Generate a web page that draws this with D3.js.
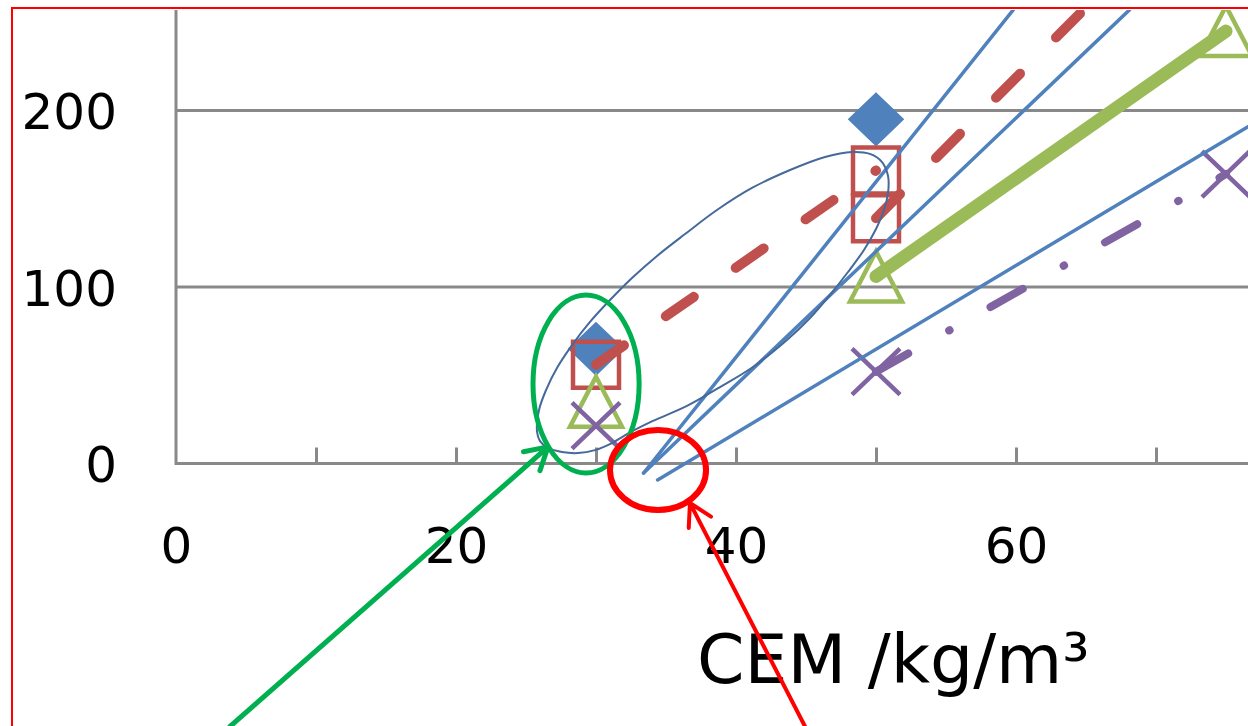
<html>
<head>
<title>CEM chart</title>
<script src="https://d3js.org/d3.v7.min.js"></script>
<style>
    body { margin: 0; background: #fff; }
    text { font-family: "DejaVu Sans", Verdana, sans-serif; fill: #000; }
</style>
</head>
<body>
<div id="chart"></div>
<script type="text/javascript">
    // Data **********************************************
    var cem = [30, 50, 75];
    var blueValues = [65, 195, null];
    var redValues = [56, 166, null];
    var redValues2 = [null, 139, 338];
    var greenValues = [35, 106, 245];
    var purpleValues = [21.5, 52, 164];

    var xTicks = [0, 20, 40, 60];
    var xMinorTicks = [10, 20, 30, 40, 50, 60, 70];
    var yTicks = [0, 100, 200];
    var gridValues = [100, 200];
    var xTitle = "CEM /kg/m\u00B3";

    // straight blue lines: start and end points
    var trendStartX = [33.4, 33.4, 34.4];
    var trendStartY = [-5.4, -5.4, -9.3];
    var trendEndX = [59.8, 68.1, 76.6];
    var trendEndY = [257, 257, 191];

    // hand drawn loop around the points
    var loopX = [25.79, 25.93, 26.43, 27.21, 28.29, 29.57, 31.0, 32.57, 34.36, 36.36, 38.64, 41.14, 43.86,
        46.36, 48.29, 49.57, 50.43, 50.86, 50.86, 50.57, 50.0, 49.14, 48.0, 46.71, 45.29, 43.64, 41.21,
        38.86, 36.5, 34.07, 32.43, 31.14, 29.93, 28.71, 27.57, 26.57, 26.0];
    var loopY = [17.9, 30.3, 41.6, 54.1, 67.1, 80.2, 92.6, 105.1, 117.6, 130.0, 143.6, 156.1, 166.3,
        173.7, 176.5, 175.4, 170.8, 162.9, 153.3, 143.6, 132.9, 121.0, 108.5, 95.5, 82.4, 70.0, 54.7,
        43.3, 32.6, 24.1, 17.6, 11.6, 7.6, 5.9, 6.5, 8.8, 12.7];

    // annotation marks (data units)
    var greenRing = {cx: 29.29, cy: 45.0, rx: 3.79, ry: 50.4};
    var redRing = {cx: 34.43, cy: -3.7, rx: 3.43, ry: 22.7};
    var greenArrow = {x0: 3.86, y0: -149, x1: 26.57, y1: 9.4};
    var redArrow = {x0: 44.93, y0: -149, x1: 36.71, y1: -22.4};

    // Layout ***********************
    var width = 1248, height = 726;
    var gray = "#898989";

    var x = d3.scaleLinear().domain([0, 76.571]).range([176, 1248]);
    var y = d3.scaleLinear().domain([0, 200]).range([463.5, 110.5]);

    var svg = d3.select("#chart").append("svg")
        .attr("width", width)
        .attr("height", height);

    svg.append("defs").append("clipPath").attr("id", "plotclip")
        .append("rect")
        .attr("x", 13).attr("y", 10)
        .attr("width", width).attr("height", height);

    // gridlines
    svg.selectAll(".grid")
        .data(gridValues)
        .enter().append("line")
        .attr("x1", x(0)).attr("x2", width)
        .attr("y1", function (d) { return y(d); })
        .attr("y2", function (d) { return y(d); })
        .attr("stroke", gray).attr("stroke-width", 3);

    // x axis
    var xAxis = svg.append("g")
        .attr("transform", "translate(0," + y(0) + ")")
        .call(d3.axisBottom(x).tickValues(xTicks).tickSize(0).tickFormat(d3.format("d")));
    xAxis.select(".domain").remove();
    xAxis.selectAll("text")
        .attr("y", 82).attr("dy", "0.35em")
        .style("font-size", "50px");

    svg.append("g")
        .attr("transform", "translate(0," + y(0) + ")")
        .call(d3.axisBottom(x).tickValues(xMinorTicks).tickSize(-16).tickFormat(""))
        .call(function (g) { g.select(".domain").remove(); })
        .selectAll("line").attr("stroke", gray).attr("stroke-width", 3);

    svg.append("line")
        .attr("x1", x(0)).attr("x2", width)
        .attr("y1", y(0)).attr("y2", y(0))
        .attr("stroke", gray).attr("stroke-width", 3);

    // y axis
    var yAxis = svg.append("g")
        .attr("transform", "translate(" + x(0) + ",0)")
        .call(d3.axisLeft(y).tickValues(yTicks).tickSize(0).tickPadding(59));
    yAxis.select(".domain").remove();
    yAxis.selectAll("text")
        .attr("dy", "0.36em")
        .style("font-size", "50px");

    svg.append("line")
        .attr("x1", x(0)).attr("x2", x(0))
        .attr("y1", y(0) + 1.5).attr("y2", 10)
        .attr("stroke", gray).attr("stroke-width", 3);

    // axis title
    svg.append("text")
        .attr("x", 697).attr("y", 683)
        .style("font-size", "68px")
        .text(xTitle);

    // Series ***********************
    var plot = svg.append("g").attr("clip-path", "url(#plotclip)");

    function points(values) {
        return cem.map(function (c, i) { return {x: c, y: values[i]}; });
    }

    var line = d3.line()
        .defined(function (d) { return d.y !== null; })
        .x(function (d) { return x(d.x); })
        .y(function (d) { return y(d.y); });

    function drawLine(pts, color, w, dash) {
        var p = plot.append("path")
            .datum(pts)
            .attr("fill", "none")
            .attr("stroke", color)
            .attr("stroke-width", w)
            .attr("stroke-linecap", "round")
            .attr("stroke-linejoin", "round")
            .attr("d", line);
        if (dash) p.attr("stroke-dasharray", dash);
    }

    function drawMarkers(values, shape, fill, stroke) {
        plot.selectAll(null)
            .data(points(values).filter(function (d) { return d.y !== null; }))
            .enter().append("path")
            .attr("transform", function (d) { return "translate(" + x(d.x) + "," + y(d.y) + ")"; })
            .attr("d", shape)
            .attr("fill", fill)
            .attr("stroke", stroke)
            .attr("stroke-width", 4.5);
    }

    var diamond = "M0,-24L25,0L0,24L-25,0Z";
    var square = "M-23,-23H23V23H-23Z";
    var triangle = "M0,-25L26,25H-26Z";
    var cross = "M-24,-23L24,23M-24,23L24,-23";

    // blue diamonds
    drawMarkers(blueValues, diamond, "#4f81bd", "#4f81bd");

    // red squares + dashed lines
    drawLine(points(redValues).slice(0, 2), "#c0504d", 10, "34,51");
    drawLine(points(redValues2).slice(1, 3), "#c0504d", 10, "34,51");
    drawMarkers(redValues, square, "none", "#c0504d");
    drawMarkers(redValues2, square, "none", "#c0504d");

    // green triangles + thick line
    drawLine(points(greenValues).slice(1, 3), "#9bbb59", 13);
    drawMarkers(greenValues, triangle, "none", "#9bbb59");

    // purple crosses + dash-dot line
    drawLine(points(purpleValues).slice(1, 3), "#8064a2", 8, "37,47,0.5,47");
    drawMarkers(purpleValues, cross, "none", "#8064a2");

    // straight blue lines
    trendStartX.forEach(function (d, i) {
        plot.append("line")
            .attr("x1", x(trendStartX[i])).attr("y1", y(trendStartY[i]))
            .attr("x2", x(trendEndX[i])).attr("y2", y(trendEndY[i]))
            .attr("stroke", "#4f81bd")
            .attr("stroke-width", 3.5)
            .attr("stroke-linecap", "round");
    });

    // thin loop
    var loopPts = loopX.map(function (d, i) { return [x(d), y(loopY[i])]; });
    plot.append("path")
        .attr("d", d3.line().curve(d3.curveCatmullRomClosed)(loopPts))
        .attr("fill", "none")
        .attr("stroke", "#45699a")
        .attr("stroke-width", 2);

    // Annotations ***********************
    function ring(r, color, w) {
        svg.append("ellipse")
            .attr("cx", x(r.cx)).attr("cy", y(r.cy))
            .attr("rx", x(r.cx + r.rx) - x(r.cx))
            .attr("ry", y(r.cy) - y(r.cy + r.ry))
            .attr("fill", "none")
            .attr("stroke", color)
            .attr("stroke-width", w);
    }

    function arrow(a, color, w) {
        var x0 = x(a.x0), y0 = y(a.y0), x1 = x(a.x1), y1 = y(a.y1);
        var ang = Math.atan2(y0 - y1, x0 - x1);
        var len = 25, spread = Math.PI / 6;
        var head = [ang - spread, ang + spread].map(function (t) {
            return [x1 + len * Math.cos(t), y1 + len * Math.sin(t)];
        });
        svg.append("path")
            .attr("d", "M" + x0 + "," + y0 + "L" + x1 + "," + y1 +
                "M" + head[0] + "L" + x1 + "," + y1 + "L" + head[1])
            .attr("fill", "none")
            .attr("stroke", color)
            .attr("stroke-width", w)
            .attr("stroke-linecap", "round")
            .attr("stroke-linejoin", "round");
    }

    ring(greenRing, "#00b050", 5);
    ring(redRing, "#ff0000", 6);
    arrow(greenArrow, "#00b050", 5);
    arrow(redArrow, "#ff0000", 4);

    // red frame round the crop
    svg.append("rect")
        .attr("x", 12).attr("y", 8)
        .attr("width", width + 20).attr("height", height + 20)
        .attr("fill", "none")
        .attr("stroke", "#ff0000")
        .attr("stroke-width", 2);
</script>
</body>
</html>
